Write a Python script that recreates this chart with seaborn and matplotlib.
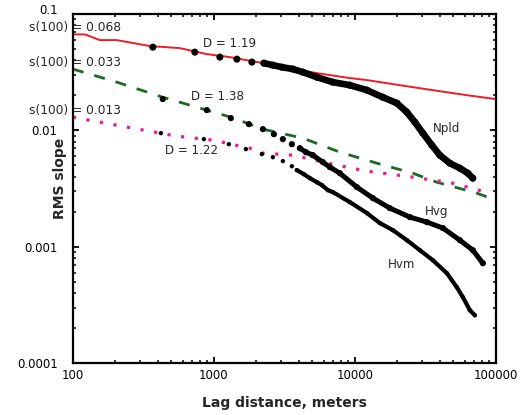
import matplotlib
matplotlib.use("Agg")
import matplotlib.pyplot as plt
from matplotlib import ticker
import seaborn as sns
import pandas as pd

# ── values (lag in meters, RMS slope) ──────────────────────────────────────
red_lag = [100, 122, 155, 205, 352, 574, 891, 1298, 2228, 4074, 5370, 9220,
           12170, 20850, 35730, 62230, 100000]
red_slope = [0.0669, 0.0669, 0.0598, 0.0598, 0.0531, 0.0510, 0.0453, 0.0427,
             0.0379, 0.0330, 0.0311, 0.0282, 0.0271, 0.0245, 0.0222, 0.0201,
             0.0186]

green_lag = [100, 205, 434, 891, 1320, 2228, 4276, 7830, 14320, 25770, 38170,
             73310, 100000]
green_slope = [0.0337, 0.0260, 0.0193, 0.01495, 0.0130, 0.01026, 0.00859,
               0.00651, 0.00523, 0.00429, 0.00359, 0.00289, 0.00252]

pink_lag = [100, 155, 266, 547, 984, 1799, 2228, 3631, 7447, 12170, 25770,
            49550, 90570]
pink_slope = [0.0130, 0.01179, 0.01047, 0.00893, 0.00825, 0.00704, 0.00638,
              0.00613, 0.00503, 0.00447, 0.00397, 0.00352, 0.00289]

npld_lag = [369, 733, 1103, 1456, 1860, 2262, 2620, 3036, 3634, 4278, 5377,
            6982, 9216, 12170, 15790, 19860, 23380, 26640, 30360, 35170,
            40070, 47180, 55540, 63300, 68680]
npld_slope = [0.0520, 0.0471, 0.0427, 0.0410, 0.0387, 0.0379, 0.0364, 0.0350,
              0.0337, 0.0317, 0.0287, 0.0260, 0.0245, 0.0222, 0.0193, 0.01717,
              0.01437, 0.01179, 0.00948, 0.00747, 0.00613, 0.00523, 0.00474,
              0.00429, 0.00389]

hvg_lag = [434, 891, 1320, 1771, 2228, 2665, 3086, 3574, 4074, 4493, 5037,
           5929, 6648, 7830, 10330, 13420, 17710, 24550, 32400, 42090, 55540,
           68680, 80860]
hvg_slope = [0.0186, 0.01495, 0.01276, 0.01133, 0.01026, 0.00929, 0.00842,
             0.00762, 0.00704, 0.00651, 0.00613, 0.00534, 0.00484, 0.00429,
             0.00326, 0.00262, 0.00215, 0.00180, 0.00163, 0.00145, 0.00114,
             0.000935, 0.000723]

hvm_lag = [421, 849, 1277, 1687, 2190, 2620, 3086, 3574, 3879, 4348, 4797,
           5377, 5834, 6435, 6982, 9216, 12170, 15040, 18600, 23380, 28910,
           35730, 44930, 52890, 58340, 65410, 70990]
hvm_slope = [0.00948, 0.00842, 0.00762, 0.00691, 0.00626, 0.00589, 0.00545,
             0.00493, 0.00456, 0.00421, 0.00389, 0.00359, 0.00339, 0.00307,
             0.00295, 0.00242, 0.00195, 0.00160, 0.00139, 0.00114, 0.000935,
             0.000767, 0.000593, 0.000449, 0.000369, 0.000285, 0.000258]

x_ticks = [100, 1000, 10000, 100000]
y_ticks = [0.0001, 0.001, 0.01, 0.1]

sns.set_style("ticks")
plt.rcParams["font.family"] = ["DejaVu Sans"]

fig = plt.figure(figsize=(5.32, 4.15), dpi=100)
ax = fig.add_axes([0.137, 0.125, 0.795, 0.841])
ax.set_xscale("log")
ax.set_yscale("log")

# fitted / reference profiles
sns.lineplot(x=red_lag, y=red_slope, ax=ax, color="#ee1d23", lw=1.4,
             estimator=None, sort=False)
sns.lineplot(x=green_lag, y=green_slope, ax=ax, color="#1c6b25", lw=2.0,
             linestyle=(0, (4, 4)), estimator=None, sort=False)
sns.lineplot(x=pink_lag, y=pink_slope, ax=ax, color="#ec1a8c", lw=2.3,
             linestyle=(0, (1, 3.3)), estimator=None, sort=False)

# measured curves: sparse dots at short lags, dense band further out
curves = [
    (npld_lag, npld_slope, 6, 26, 4.8),
    (hvg_lag, hvg_slope, 9, 20, 3.6),
    (hvm_lag, hvm_slope, 9, 10, 3.0),
]
for lag, slope, n_sparse, dot, band in curves:
    df = pd.DataFrame({"lag": lag, "slope": slope})
    sns.scatterplot(data=df, x="lag", y="slope", ax=ax, color="black",
                    s=dot, edgecolor="none", zorder=4)
    sns.lineplot(data=df.iloc[n_sparse - 1:], x="lag", y="slope", ax=ax,
                 color="black", lw=band, estimator=None, sort=False, zorder=4,
                 solid_capstyle="round")

ax.set_xlim(100, 100000)
ax.set_ylim(0.0001, 0.1)
ax.set_xticks(x_ticks)
ax.set_yticks(y_ticks)
ax.xaxis.set_major_formatter(ticker.FuncFormatter(lambda v, _: f"{v:g}"))
ax.yaxis.set_major_formatter(ticker.FuncFormatter(lambda v, _: f"{v:g}"))
ax.xaxis.set_minor_formatter(ticker.NullFormatter())
ax.yaxis.set_minor_formatter(ticker.NullFormatter())
ax.tick_params(which="both", direction="in", top=True, right=True,
               colors="black", labelsize=8.5)
ax.tick_params(which="major", length=4.5, width=1.3)
ax.tick_params(which="minor", length=2.2, width=1.1)
ax.tick_params(axis="x", pad=4)
ax.tick_params(axis="y", pad=11)
# top label "0.1" sits a touch higher in the original
ax.yaxis.get_major_ticks()[-1].label1.set_va("baseline")
for sp in ax.spines.values():
    sp.set_linewidth(1.6)
    sp.set_color("black")

ax.set_xlabel("Lag distance, meters", fontsize=10, fontweight="bold",
              labelpad=10)
ax.set_ylabel("RMS slope", fontsize=10, fontweight="bold")
ax.yaxis.set_label_coords(-0.013, 0.53)

# labels
for txt, yfrac in [("s(100) = 0.068", 0.962), ("s(100) = 0.033", 0.862),
                   ("s(100) = 0.013", 0.725)]:
    ax.text(-0.104, yfrac, txt, transform=ax.transAxes, fontsize=8.8,
            ha="left", va="center", clip_on=False, zorder=6)
ax.text(835, 0.0564, "D = 1.19", fontsize=8.6, va="center")
ax.text(687, 0.0197, "D = 1.38", fontsize=8.6, va="center")
ax.text(449, 0.00678, "D = 1.22", fontsize=8.6, va="center")
ax.text(35700, 0.01047, "Npld", fontsize=8.6, va="center")
ax.text(31300, 0.00202, "Hvg", fontsize=8.6, va="center")
ax.text(17100, 0.000708, "Hvm", fontsize=8.6, va="center")

fig.savefig("out.png", dpi=100)
